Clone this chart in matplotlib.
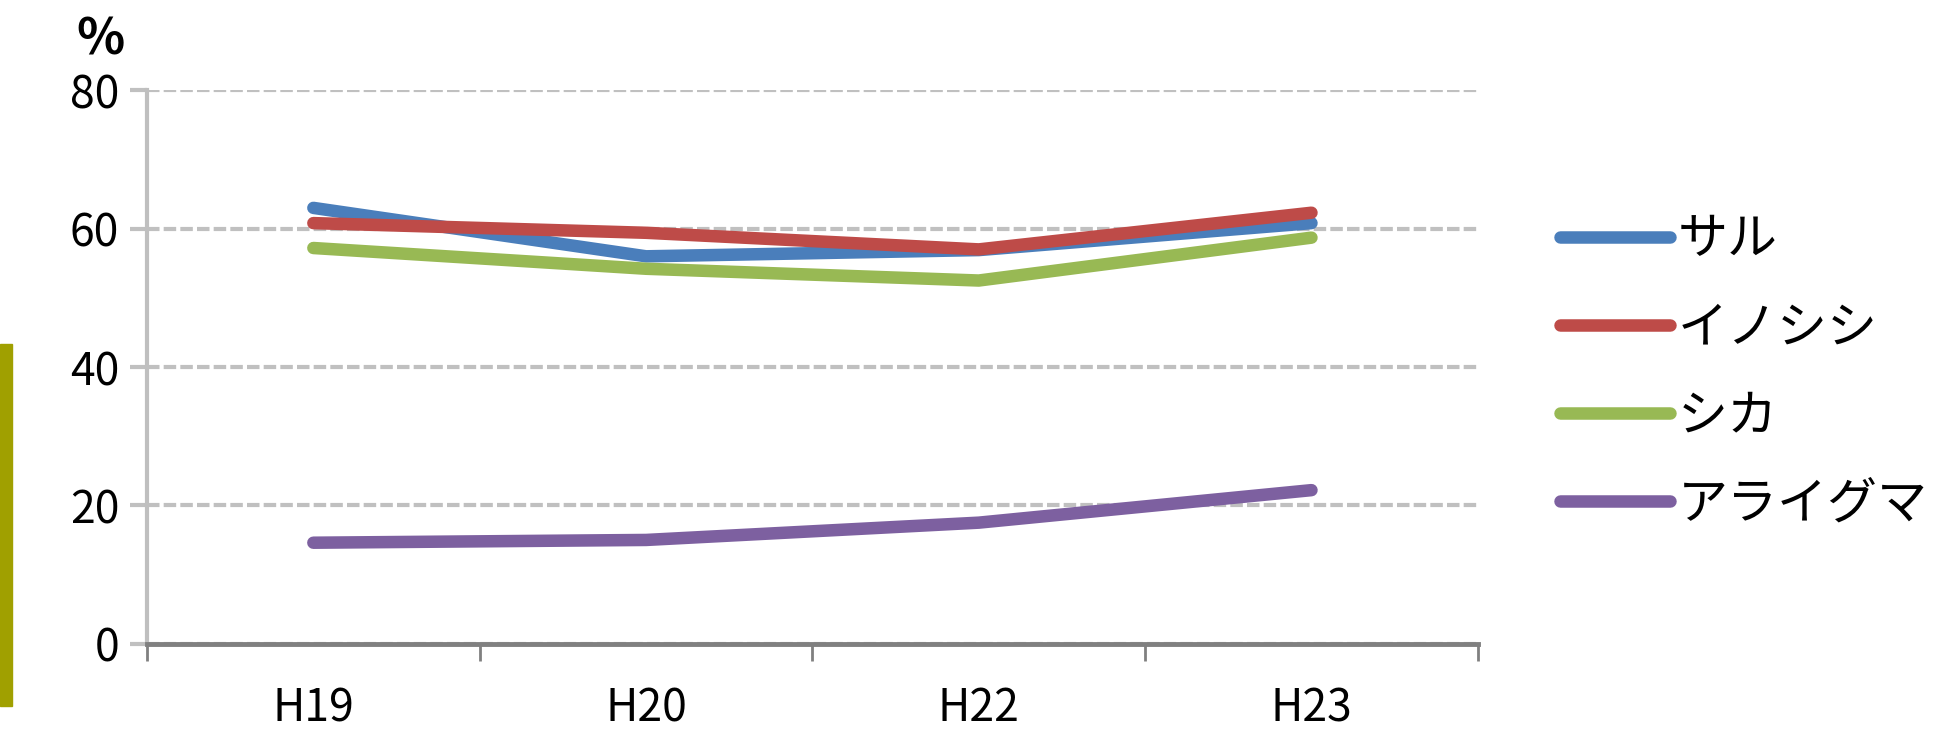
import numpy as np
import matplotlib
matplotlib.use("Agg")
import matplotlib.pyplot as plt
from matplotlib.patches import Rectangle

plt.rcParams['font.family'] = ['Noto Sans CJK JP', 'DejaVu Sans']

# ---------------------------------
# data
# ---------------------------------
years = ["H19", "H20", "H22", "H23"]
saru = [63.0, 56.0, 56.9, 60.8]
inoshishi = [60.8, 59.4, 57.0, 62.3]
shika = [57.2, 54.2, 52.5, 58.7]
araiguma = [14.6, 15.0, 17.5, 22.2]

series = [
    ("サル", saru, "#4a7ebb"),
    ("イノシシ", inoshishi, "#be4b48"),
    ("シカ", shika, "#98b954"),
    ("アライグマ", araiguma, "#7d60a0"),
]

fig = plt.figure(figsize=(19.6, 7.34), dpi=100)
ax = fig.add_axes([0.075, 0.123, 0.679, 0.754])

x = np.arange(len(years))
for name, vals, col in series:
    ax.plot(x, vals, color=col, lw=9, solid_capstyle='round',
            solid_joinstyle='round', label=name)

ax.set_xlim(-0.5, len(years) - 0.5)
ax.set_ylim(0, 80)
ax.set_yticks([0, 20, 40, 60, 80])
ax.yaxis.grid(True, color="#c0c0c0", linestyle=(0, (3, 1)), lw=3)
ax.set_axisbelow(True)

# category boundaries as ticks, labels centered
ax.set_xticks(np.arange(-0.5, len(years)))
ax.set_xticklabels([])
ax.set_xticks(x, minor=True)
ax.set_xticklabels(years, minor=True)
ax.tick_params(axis='x', which='major', direction='out', length=12,
               width=2, color="#808080")
ax.tick_params(axis='x', which='minor', length=0, pad=30, labelsize=32)
ax.tick_params(axis='y', direction='out', length=12, width=3,
               color="#c0c0c0", labelsize=32, pad=8)

for s in ['top', 'right']:
    ax.spines[s].set_visible(False)
ax.spines['left'].set_color("#bfbfbf")
ax.spines['left'].set_linewidth(3)
ax.spines['bottom'].set_color("#808080")
ax.spines['bottom'].set_linewidth(3.5)

ax.text(-0.035, 1.045, "%", transform=ax.transAxes, fontsize=36,
        fontweight='bold', ha='center', va='bottom')

leg = ax.legend(loc='center left', bbox_to_anchor=(1.028, 0.49), frameon=False,
                fontsize=36, handlelength=2.2, handletextpad=0.15,
                labelspacing=0.72)

# olive bar at the left edge
fig.patches.append(Rectangle((0, 0.038), 0.006, 0.494, transform=fig.transFigure,
                             color="#a0a000", zorder=0))

fig.savefig("out.png", dpi=100, facecolor="white")
